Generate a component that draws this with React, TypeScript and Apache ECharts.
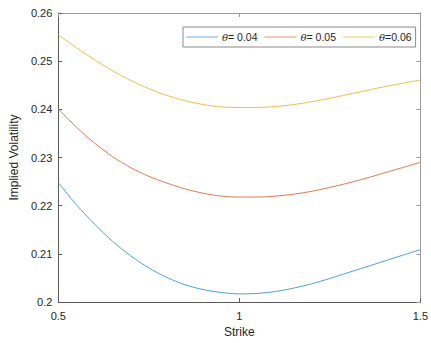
import React, { useEffect, useRef } from "react";
import * as echarts from "echarts";

const strikes = [0.5, 0.55, 0.6, 0.65, 0.7, 0.75, 0.8, 0.85, 0.9, 0.95, 1.0, 1.05, 1.1, 1.15, 1.2, 1.25, 1.3, 1.35, 1.4, 1.45, 1.5];
const ivTheta004 = [0.2248, 0.2202, 0.2162, 0.2126, 0.2096, 0.2071, 0.2051, 0.2036, 0.2026, 0.2020, 0.2017, 0.2018, 0.2022, 0.2029, 0.2038, 0.2049, 0.2061, 0.2073, 0.2085, 0.2097, 0.2109];
const ivTheta005 = [0.2401, 0.2363, 0.2330, 0.2302, 0.2279, 0.2261, 0.2247, 0.2235, 0.2226, 0.2220, 0.2218, 0.2218, 0.2220, 0.2224, 0.2230, 0.2238, 0.2247, 0.2257, 0.2268, 0.2279, 0.2290];
const ivTheta006 = [0.2555, 0.2528, 0.2503, 0.2480, 0.2460, 0.2443, 0.2429, 0.2418, 0.2410, 0.2405, 0.2404, 0.2404, 0.2406, 0.2410, 0.2416, 0.2423, 0.2431, 0.2439, 0.2447, 0.2454, 0.2461];
const seriesNames = ["θ= 0.04", "θ= 0.05", "θ=0.06"];
const seriesColors = ["#4D9FDB", "#E07A4F", "#EEBE4A"];
const xTickValues = [0.5, 1, 1.5];
const yTickValues = [0.2, 0.21, 0.22, 0.23, 0.24, 0.25, 0.26];
const xAxisTitle = "Strike";
const yAxisTitle = "Implied Volatility";

const FONT = "'Liberation Sans', Arial, sans-serif";
const TEXT = "#262626";

export default function App() {
  const ref = useRef<HTMLDivElement>(null);
  useEffect(() => {
    if (!ref.current) return;
    const chart = echarts.init(ref.current, null, { renderer: "svg" });
    const allSeries = [ivTheta004, ivTheta005, ivTheta006];
    const fmt = (v: number) => String(parseFloat(v.toFixed(2)));
    const xMin = xTickValues[0];
    const xMax = xTickValues[xTickValues.length - 1];
    const yMin = yTickValues[0];
    const yMax = yTickValues[yTickValues.length - 1];
    const baseAxisLine = (c: string) => ({ show: true, lineStyle: { color: c, width: 1 } });
    chart.setOption({
      animation: false,
      backgroundColor: "#fff",
      textStyle: { fontFamily: FONT },
      grid: { left: 52.5, top: 13, right: 8.5, bottom: 39, containLabel: false },
      legend: {
        left: 183,
        top: 27,
        padding: [3, 4, 3, 3],
        borderColor: "#8a8a8a",
        borderWidth: 1,
        backgroundColor: "#fff",
        itemGap: 7,
        itemWidth: 32,
        itemHeight: 1.5,
        icon: "rect",
        data: seriesNames.map((n, i) => ({ name: n, itemStyle: { color: seriesColors[i], opacity: 0.55 } })),
        formatter: (name: string) => name.replace("θ", "{i|θ}"),
        textStyle: {
          fontFamily: FONT,
          fontSize: 10.5,
          color: TEXT,
          lineHeight: 14,
          padding: [0, 0, 0, -1],
          rich: { i: { fontStyle: "italic", fontFamily: "'DejaVu Serif', serif", fontSize: 10, color: TEXT } },
        },
      },
      xAxis: [
        {
          type: "value",
          min: xMin,
          max: xMax,
          interval: 0.5,
          name: xAxisTitle,
          nameLocation: "middle",
          nameGap: 22,
          nameTextStyle: { fontFamily: FONT, fontSize: 12, color: TEXT },
          axisLine: baseAxisLine("#5a5a5a"),
          axisTick: { show: true, inside: true, length: 4, lineStyle: { color: "#5a5a5a" } },
          axisLabel: { fontFamily: FONT, fontSize: 11, color: TEXT, margin: 8, formatter: fmt },
          splitLine: { show: false },
        },
        {
          type: "value",
          position: "top",
          min: xMin,
          max: xMax,
          interval: 0.5,
          axisLine: baseAxisLine("#9a9a9a"),
          axisTick: { show: true, inside: true, length: 4, lineStyle: { color: "#9a9a9a" } },
          axisLabel: { show: false },
          splitLine: { show: false },
        },
      ],
      yAxis: [
        {
          type: "value",
          min: yMin,
          max: yMax,
          interval: 0.01,
          name: yAxisTitle,
          nameLocation: "middle",
          nameGap: 32,
          nameTextStyle: { fontFamily: FONT, fontSize: 12, color: TEXT },
          axisLine: baseAxisLine("#5a5a5a"),
          axisTick: { show: true, inside: true, length: 4, lineStyle: { color: "#5a5a5a" } },
          axisLabel: { fontFamily: FONT, fontSize: 11, color: TEXT, margin: 6, formatter: fmt },
          splitLine: { show: false },
        },
        {
          type: "value",
          position: "right",
          min: yMin,
          max: yMax,
          interval: 0.01,
          axisLine: baseAxisLine("#9a9a9a"),
          axisTick: { show: true, inside: true, length: 4, lineStyle: { color: "#9a9a9a" } },
          axisLabel: { show: false },
          splitLine: { show: false },
        },
      ],
      series: allSeries.map((vals, i) => ({
        name: seriesNames[i],
        type: "line",
        xAxisIndex: 0,
        yAxisIndex: 0,
        showSymbol: false,
        smooth: 0.3,
        data: strikes.map((s, j) => [s, vals[j]]),
        lineStyle: { color: seriesColors[i], width: 1 },
        itemStyle: { color: seriesColors[i] },
      })),
    });
    return () => chart.dispose();
  }, []);
  return (
    <div
      ref={ref}
      style={{ position: "fixed", left: 0, top: 0, width: 431, height: 343 }}
    />
  );
}
